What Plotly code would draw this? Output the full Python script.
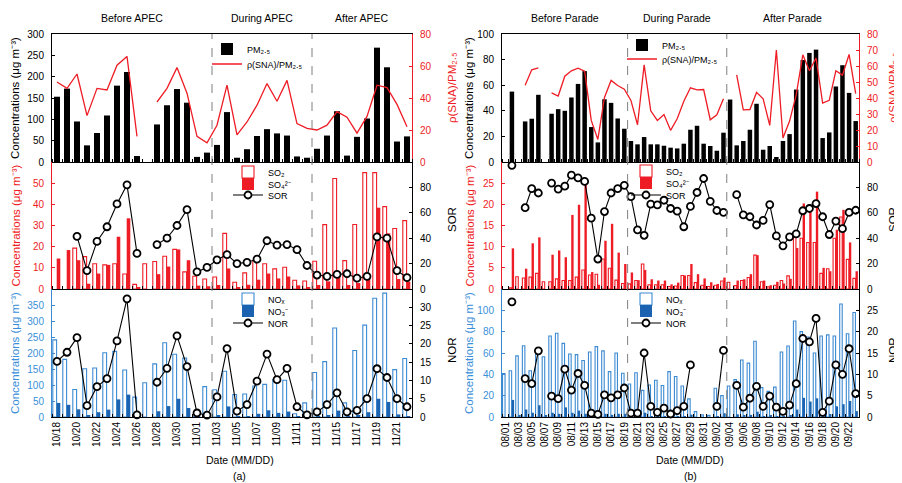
import plotly.graph_objects as go

# target window and the page's default 8px body margin
W, H = 902, 483
OFF = 8
FW, FH = W - OFF, H - OFF

FONT = "Arial, Liberation Sans, Helvetica, sans-serif"
BLACK = "#000000"
RED = "#EE1C25"
BLUE_LINE = "#3C8AD2"
BLUE_FILL = "#1B63B0"
BLUE_TXT = "#3A8FD9"
GREY = "#7F7F7F"

# ---------------- panel (a): APEC ----------------
dates_a = ["10/18", "10/19", "10/20", "10/21", "10/22", "10/23", "10/24", "10/25", "10/26",
           "10/27", "10/28", "10/29", "10/30", "10/31", "11/01", "11/02", "11/03", "11/04",
           "11/05", "11/06", "11/07", "11/08", "11/09", "11/10", "11/11", "11/12", "11/13",
           "11/14", "11/15", "11/16", "11/17", "11/18", "11/19", "11/20", "11/21", "11/22"]
pm25_a = [153, 172, 95, 39, 68, 109, 179, 211, 14, None, 88, 133, 171, 139, 12, 22, 40, 117,
          10, 30, 61, 77, 67, 62, 13, 10, 31, 62, 119, 15, 59, 102, 268, 222, 48, 60]
sna_a = [50, 46, 55, 29, 46, 45, 60.5, 66, 16, None, 37.5, 46, 59, 43, 16, 12, 23, 48,
         17, 25, 35.5, 49, 38, 51, 24, 21, 20, 23, 31.5, 28, 18, 28.5, 48, 46.5, 36, 22]
so2_a = [None, None, 19.3, 15.3, 11.9, 11.4, 11.9, 7.1, 2.2, 11.9, 13, 15.5, 18.7, 8.1, 6, 4.7, 5.7, 26.3,
         3.2, 7.6, 13.4, 11.9, 9.5, 10.3, 4.1, 3.8, 13.1, 30.4, 52.2, 13.4, 30.5, 55, 55, 38.9, 28.6, 32.3]
so4_a = [14.4, 18.4, 13.6, 2.5, 7.3, 11.4, 24.7, 33.4, 0.9, None, 7, 10.6, 18.7, 13.6, 1.6, 1.3, 1.9, 9.7,
         0.8, 2, 4.4, 7.3, 5, 5.9, 1.7, 0.9, 1.9, 3.6, 6, 1.9, 2.8, 7, 38.4, 26.3, 4.7, 3.5]
sor_a = [None, None, 41.5, 14.5, 37.5, 49, 67, 82, 28, None, 35, 40, 50, 62.5, 13.5, 17, 23, 27,
         20, 21, 23.5, 38, 34.5, 35, 31, 18.5, 11, 10, 11.5, 12, 8.5, 10, 41, 40, 14.5, 9]
nox_a = [241, 180, 86, 151, 153, 201, 205, 147, 62, 107, 166, 232, 196, 184, 3, 95, 85, 143,
         70, 72, 97, 102, 117, 115, 10, 44, 139, 173, 278, 44, 208, 287, 371, 387, 148, 183]
no3_a = [44, 38, 24, 5, 15, 23, 55, 70, 0.3, None, 18, 34, 57, 28, 0.1, 0.5, 4, 33,
         1, 2, 10, 21, 13, 17, 0.3, 0.3, 2, 6, 20, 0.7, 4, 15, 57, 47, 8, 3]
nor_a = [15.2, 17.7, 21.7, 3.1, 8.3, 10.5, 20.8, 32.3, 0.6, None, 9.5, 13.3, 22.2, 13.8, 1.1, 0.5, 5.5, 18.7,
         1.6, 3.4, 9.8, 17.2, 10.2, 13.3, 2.8, 0.6, 1.4, 3.4, 6.6, 1.4, 1.8, 5, 13.2, 10.8, 5, 2.8]
periods_a = ["Before APEC", "During APEC", "After APEC"]

# ---------------- panel (b): Parade ----------------
dates_b = ["08/01", "08/02", "08/03", "08/04", "08/05", "08/06", "08/07", "08/08", "08/09", "08/10",
           "08/11", "08/12", "08/13", "08/14", "08/15", "08/16", "08/17", "08/18", "08/19", "08/20",
           "08/21", "08/22", "08/23", "08/24", "08/25", "08/26", "08/27", "08/28", "08/29", "08/30",
           "08/31", "09/01", "09/02", "09/03", "09/04", "09/05", "09/06", "09/07", "09/08", "09/09",
           "09/10", "09/11", "09/12", "09/13", "09/14", "09/15", "09/16", "09/17", "09/18", "09/19",
           "09/20", "09/21", "09/22", "09/23"]
pm25_b = [None, 55, None, 31.7, 33.8, 52.5, None, 37.7, 41.3, 40, 50.4, 61, 71, 27.3, 15.3, 49, 46.2, 34,
          26, 16.4, 13.8, 19.5, 13.8, 13.8, 12.7, 11.2, 10.6, 14.3, 25.2, 28.3, 14.3, 12.5, 8.8, 22.9,
          48.8, 13, 16.4, 25.2, 45.5, 9.6, 12.5, 3.9, 16.4, 21.8, 56.6, 79.7, 85.2, 87.8, 18.7, 23.1,
          59, 75.6, 54, 32]
sna_b = [None, None, None, 48, 57.6, 58.8, None, 43.2, 41.2, 53.6, 57, 58.6, 56.8, 26, 14.1, 40.3, 51, 47.8,
         45.5, 38.5, 23.3, 60.7, 32, 26, 29.7, 19.8, 27, 38, 46.4, 45.1, 45.3, 26.4, 29.5, 39.5,
         None, 54.5, 32.6, 32.8, 43.5, 39.5, 22.9, 70, 15, 25.6, 42, 67, 57, 65, 36.8, 38.5,
         57, 54.3, 67.2, 42.8]
so2_b = [None, 0.3, 2.9, 2.6, 2.8, 3.7, 1.7, 1.7, 2.4, 2.0, 2.0, 2.8, 4.5, 3.3, 3.5, 7.1, 4.9, 2.1,
         1.3, 1.2, 2.0, 5.9, 1.0, 1.0, 1.0, 0.6, 0.7, 3.2, 3.2, 1.5, 0.9, 0.6, 0.9, 1.9,
         1.6, 0.8, 2.0, 2.7, 8.0, 1.7, 0.5, 0.9, 2.0, 3.1, 12.5, 12.0, 11.0, 11.0, 3.7, 4.8,
         12.0, 17.0, 7.0, 2.5]
so4_b = [None, 9.6, None, 4.8, 10.8, 12.2, None, 8.1, 9.1, 7.5, 17.5, 19.9, 25.2, 4.0, 1.0, 11.4, 15.4, 8.6,
         5.9, 3.9, 2.1, 4.5, 2.3, 2.0, 2.0, 1.1, 1.5, 3.2, 5.9, 3.5, 2.5, 1.6, 1.2, 2.7,
         None, 2.0, 2.3, 3.5, 8.0, 2.0, 0.9, 1.7, 1.3, 2.4, 9.7, 20.2, 20.0, 23.0, 5.0, 4.2,
         14.0, 18.7, 11.0, 4.2]
sor_b = [None, 97.4, None, 64, 79, 75.6, None, 83.4, 78.7, 81, 89.6, 87.5, 84.7, 55.8, 23.6, 61, 75.6, 79,
         81.6, 72.7, 46.5, 42.3, 66.8, 66.2, 69.9, 63.4, 61.3, 49, 65, 76, 87, 69, 61.8, 60.3,
         None, 74.3, 58.4, 56.9, 50.4, 54, 66.5, 41.8, 34, 41, 43.4, 61.6, 63.4, 67.3, 56.9, 42.9,
         53.5, 47.5, 60.3, 62]
nox_b = [40.8, 43.4, 57.3, 66.8, 43.4, 61, 56.5, 76, 78.5, 69, 59, 58.5, 53, 61, 66, 62, 42.5, 60,
         41, 31, 41.5, 25, 30, 34.5, 29.5, 42.5, 38, 29, 17, 5, 2, 1.5, 27, 20,
         29, 35, 53.5, 50.5, 71, 27.5, 24, 28, 61, 66.5, 90, 80, 75, 60, 76, 77,
         76, 106, 78, 98]
no3_b = [None, 16, 2, 7, 4, 11, 1, 4, 3, 9, 4, 6, 3, 0.5, 0.5, 3, 2, 3,
         3, 0.3, 0.4, 4, 0.7, 0.4, 0.6, 0.3, 0.6, 0.7, 2.2, None, None, None, 0.6, 3.5,
         None, 2.5, 1, 2, 5, 0.7, 1.2, 0.6, 0.8, 1.8, 7, 18, 14.5, 17.5, 0.8, 2.8,
         10, 12, 15, 5.5]
nor_b = [None, 27, None, 9, 7.8, 15.5, None, 4.9, 4.3, 11.2, 6.3, 10.2, 7.4, 0.9, 0.6, 5.2, 4.5, 5.2,
         6.8, 0.9, 0.9, 15, 2.5, 1.1, 2.1, 0.7, 1.5, 2.5, 12.2, None, None, None, 2.5, 15.6,
         None, 7.4, 2.3, 4.4, 7.2, 2.5, 4.9, 2.3, 1.3, 2.8, 7.8, 18.4, 17.6, 23.1, 1.1, 3.7,
         12.2, 10, 16, 5.5]
periods_b = ["Before Parade", "During Parade", "After Parade"]

for arr in [pm25_a, sna_a, so2_a, so4_a, sor_a, nox_a, no3_a, nor_a]:
    assert len(arr) == len(dates_a)
for arr in [pm25_b, sna_b, so2_b, so4_b, sor_b, nox_b, no3_b, nor_b]:
    assert len(arr) == len(dates_b)

# ---------------- layout geometry (window pixels) ----------------
ROWS = [(34, 162), (162, 289), (289, 417)]


def X(px):
    return (px - OFF) / FW


def Y(py):
    return 1 - (py - OFF) / FH


panels = [
    dict(dates=dates_a, x0=52, x1=412, label="(a)", periods=periods_a, bounds=[15.5, 25.5],
         pm=pm25_a, sna=sna_a, so2=so2_a, so4=so4_a, sor=sor_a, nox=nox_a, no3=no3_a, nor=nor_a,
         ranges=[([0, 300], list(range(0, 301, 50)), [0, 80], list(range(0, 81, 20))),
                 ([0, 60], list(range(0, 51, 10)), [0, 100], [0, 20, 40, 60, 80]),
                 ([0, 400], list(range(0, 351, 50)), [0, 35], list(range(0, 31, 5)))],
         pmw=0.6, lt_x=15, rt_x=452, date_x=240,
         leg=[[(247, 47), (247, 62)], [(268, 170), (268, 182), (268, 193)],
              [(268, 297), (268, 309), (268, 321)]]),
    dict(dates=dates_b, x0=502, x1=859, label="(b)", periods=periods_b, bounds=[18.5, 33.5],
         pm=pm25_b, sna=sna_b, so2=so2_b, so4=so4_b, sor=sor_b, nox=nox_b, no3=no3_b, nor=nor_b,
         ranges=[([0, 100], list(range(0, 101, 20)), [0, 80], list(range(0, 81, 10))),
                 ([0, 30], list(range(0, 26, 5)), [0, 100], [0, 20, 40, 60, 80]),
                 ([0, 120], list(range(0, 101, 20)), [0, 30], list(range(0, 26, 5)))],
         pmw=0.68, lt_x=469, rt_x=893, date_x=690,
         leg=[[(662, 43), (662, 57)], [(666, 169), (666, 181), (666, 193)],
              [(666, 297), (666, 309), (666, 321)]]),
]

left_colors = [BLACK, RED, BLUE_TXT]
left_line = [BLACK, RED, BLUE_LINE]
right_colors = [RED, BLACK, BLACK]

fig = go.Figure()
layout = dict(width=FW, height=FH, margin=dict(l=0, r=0, t=0, b=0, pad=0, autoexpand=False),
              autosize=False, paper_bgcolor="white", plot_bgcolor="white", barmode="overlay",
              font=dict(family=FONT, size=10, color=BLACK), showlegend=True,
              legend=dict(visible=False))
annotations = []
shapes = []
legend_count = [1]


def ax_id(prefix, i):
    return prefix if i == 1 else f"{prefix}{i}"


def lay_key(prefix, i):
    return f"{prefix}axis" if i == 1 else f"{prefix}axis{i}"


def new_legend(tx, ty):
    legend_count[0] += 1
    name = f"legend{legend_count[0]}"
    layout[name] = dict(x=X(tx - 40), y=Y(ty + 2), xanchor="left", yanchor="middle",
                        bgcolor="rgba(0,0,0,0)", borderwidth=0, itemwidth=30,
                        font=dict(family=FONT, size=9, color=BLACK))
    return name


def marker_line(x, y, xa, ya, name, leg):
    return go.Scatter(x=x, y=y, xaxis=xa, yaxis=ya, name=name, mode="lines+markers",
                      line=dict(color=BLACK, width=1.1), connectgaps=False,
                      marker=dict(symbol="circle", size=7, color="white",
                                  line=dict(color=BLACK, width=1.8)),
                      legend=leg, showlegend=True, cliponaxis=False)


for p, P in enumerate(panels):
    n = len(P["dates"])
    xs = list(range(n))
    for k in range(3):
        xi = p * 3 + k + 1
        yi = 2 * (p * 3 + k) + 1
        yj = yi + 1
        xa, ya, yb = ax_id("x", xi), ax_id("y", yi), ax_id("y", yj)
        r0, r1 = ROWS[k]
        yr, yt, sr, st = P["ranges"][k]
        layout[lay_key("x", xi)] = dict(
            domain=[X(P["x0"]), X(P["x1"])], anchor=ya, range=[-0.5, n - 0.5],
            showline=True, linecolor=BLACK, linewidth=1, mirror=(k == 0),
            tickmode="array", tickvals=xs[::2], ticktext=P["dates"][::2],
            showticklabels=(k == 2), ticks="", tickangle=-90, automargin=False,
            tickfont=dict(size=10, color=BLACK),
            minor=dict(tickmode="array", tickvals=[i - 0.5 for i in range(n + 1)],
                       ticks="inside", ticklen=3, tickcolor=BLACK, tickwidth=1),
            showgrid=False, zeroline=False, fixedrange=True)
        layout[lay_key("y", yi)] = dict(
            domain=[Y(r1), Y(r0)], anchor=xa, range=yr, tickmode="array", tickvals=yt,
            showline=True, linecolor=left_line[k], linewidth=1, ticks="inside", ticklen=3,
            tickcolor=left_line[k], tickfont=dict(size=10, color=left_colors[k]),
            ticklabelstandoff=5, showgrid=False, zeroline=False, automargin=False)
        layout[lay_key("y", yj)] = dict(
            overlaying=ya, side="right", anchor=xa, range=sr, tickmode="array", tickvals=st,
            ticksuffix="%", showline=True, linecolor=right_colors[k], linewidth=1,
            ticks="inside", ticklen=3, tickcolor=right_colors[k],
            tickfont=dict(size=10, color=right_colors[k]), ticklabelstandoff=5,
            showgrid=False, zeroline=False, automargin=False)

        lg = P["leg"][k]
        if k == 0:
            fig.add_trace(go.Bar(x=xs, y=P["pm"], xaxis=xa, yaxis=ya, name="PM₂.₅",
                                 width=P["pmw"], marker=dict(color=BLACK, line=dict(width=0)),
                                 legend=new_legend(*lg[0])))
            fig.add_trace(go.Scatter(x=xs, y=P["sna"], xaxis=xa, yaxis=yb,
                                     name="ρ(SNA)/PM₂.₅", mode="lines",
                                     line=dict(color=RED, width=1.3), connectgaps=False,
                                     legend=new_legend(*lg[1])))
        elif k == 1:
            fig.add_trace(go.Bar(x=xs, y=P["so2"], xaxis=xa, yaxis=ya, name="SO₂",
                                 width=0.38, offset=-0.42,
                                 marker=dict(color="white", line=dict(color=RED, width=1.1)),
                                 legend=new_legend(*lg[0])))
            fig.add_trace(go.Bar(x=xs, y=P["so4"], xaxis=xa, yaxis=ya,
                                 name="SO₄²⁻", width=0.36, offset=-0.03,
                                 marker=dict(color=RED, line=dict(width=0)),
                                 legend=new_legend(*lg[1])))
            fig.add_trace(marker_line(xs, P["sor"], xa, yb, "SOR", new_legend(*lg[2])))
        else:
            fig.add_trace(go.Bar(x=xs, y=P["nox"], xaxis=xa, yaxis=ya, name="NOₓ",
                                 width=0.38, offset=-0.42,
                                 marker=dict(color="white", line=dict(color=BLUE_LINE, width=1.1)),
                                 legend=new_legend(*lg[0])))
            fig.add_trace(go.Bar(x=xs, y=P["no3"], xaxis=xa, yaxis=ya,
                                 name="NO₃⁻", width=0.36, offset=-0.03,
                                 marker=dict(color=BLUE_FILL, line=dict(width=0)),
                                 legend=new_legend(*lg[1])))
            fig.add_trace(marker_line(xs, P["nor"], xa, yb, "NOR", new_legend(*lg[2])))

        # axis titles
        cy = Y((r0 + r1) / 2)
        annotations.append(dict(x=X(P["lt_x"]), y=cy, xref="paper", yref="paper",
                                xanchor="center", yanchor="middle",
                                text="Concentrations (μg m⁻³)", textangle=-90,
                                showarrow=False, font=dict(size=11.5, color=left_colors[k])))
        rt = ["ρ(SNA)/PM₂.₅", "SOR", "NOR"][k]
        ry = [88, 220, 350][k]
        annotations.append(dict(x=X(P["rt_x"]), y=Y(ry), xref="paper", yref="paper",
                                xanchor="center", yanchor="middle",
                                text=rt, textangle=-90, showarrow=False,
                                font=dict(size=11.5, color=right_colors[k])))

    # period dividers and labels
    xtop = ax_id("x", p * 3 + 1)
    for b in P["bounds"]:
        shapes.append(dict(type="line", xref=xtop, yref="paper", x0=b, x1=b,
                           y0=Y(ROWS[2][1]), y1=Y(ROWS[0][0]),
                           line=dict(color=GREY, width=1, dash="dash")))
    edges = [-0.5] + P["bounds"] + [n - 0.5]
    for j, lab in enumerate(P["periods"]):
        annotations.append(dict(x=(edges[j] + edges[j + 1]) / 2, y=Y(18), xref=xtop,
                                yref="paper", xanchor="center", yanchor="middle", text=lab,
                                showarrow=False, font=dict(size=10.5, color=BLACK)))
    annotations.append(dict(x=X(P["date_x"]), y=Y(460), xref="paper", yref="paper",
                            xanchor="center", yanchor="middle",
                            text="Date (MM/DD)", showarrow=False, font=dict(size=10.5)))
    annotations.append(dict(x=X(P["date_x"]), y=Y(476), xref="paper", yref="paper",
                            xanchor="center", yanchor="middle",
                            text=P["label"], showarrow=False, font=dict(size=10.5)))

layout["annotations"] = annotations
layout["shapes"] = shapes
fig.update_layout(**layout)
fig.write_html("out.html")
